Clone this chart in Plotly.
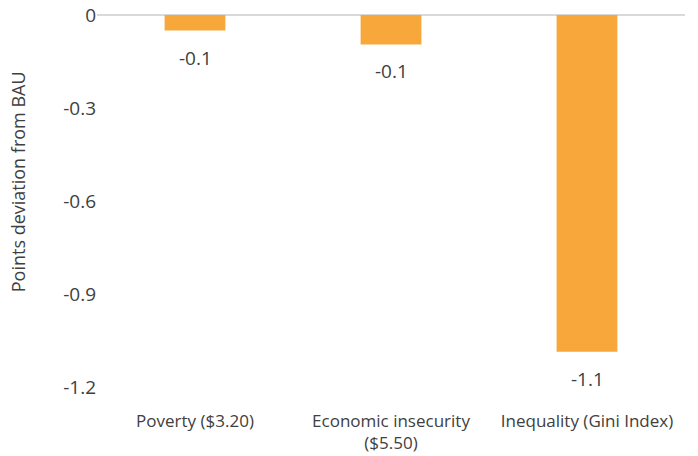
import plotly.graph_objects as go

# Change in poverty / insecurity / inequality measures relative to BAU
categories = ["Poverty ($3.20)", "Economic insecurity<br>($5.50)", "Inequality (Gini Index)"]
values = [-0.05, -0.095, -1.086]
y_ticks = [0, -0.3, -0.6, -0.9, -1.2]
y_tick_labels = ["0", "-0.3", "-0.6", "-0.9", "-1.2"]

bar_color = "#F8A83A"
text_color = "#404040"
font_family = "Open Sans, Roboto, DejaVu Sans, sans-serif"

fig = go.Figure()
fig.add_trace(go.Bar(
    x=categories,
    y=values,
    marker=dict(color=bar_color, line=dict(width=0)),
    width=0.31,
    hoverinfo="x+y",
))

# value labels sitting beneath each bar
for cat, val in zip(categories, values):
    fig.add_annotation(
        x=cat, y=val, xref="x", yref="y",
        text=f"{val:.1f}",
        showarrow=False,
        yanchor="middle",
        yshift=-27,
        font=dict(size=19, color=text_color, family=font_family),
    )

# axis title
fig.add_annotation(
    x=-0.134, y=0.551, xref="paper", yref="paper",
    text="Points deviation from BAU",
    textangle=-90,
    showarrow=False,
    xanchor="center", yanchor="middle",
    font=dict(size=18, color=text_color, family=font_family),
)

fig.update_layout(
    width=698, height=456,
    margin=dict(l=97, r=13, t=15, b=69),
    plot_bgcolor="white",
    paper_bgcolor="white",
    showlegend=False,
    font=dict(family=font_family, color=text_color, size=19),
    bargap=0.69,
)

fig.update_xaxes(
    showgrid=False,
    showline=False,
    zeroline=False,
    ticks="",
    side="bottom",
    automargin=False,
    ticklabelstandoff=22,
    tickfont=dict(size=17, color=text_color),
)

fig.update_yaxes(
    range=[-1.2, 0],
    tickvals=y_ticks,
    ticktext=y_tick_labels,
    showgrid=False,
    showline=False,
    zeroline=True,
    zerolinecolor="#D9D9D9",
    zerolinewidth=2,
    ticks="",
    automargin=False,
    tickfont=dict(size=19, color=text_color),
)

fig.write_html("out.html")
